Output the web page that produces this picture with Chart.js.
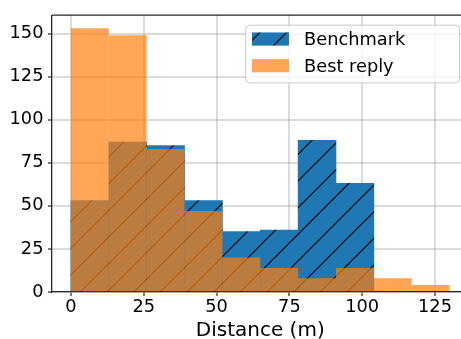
<!DOCTYPE html>
<html>
<head>
<meta charset="utf-8">
<script src="https://cdn.jsdelivr.net/npm/chart.js@4/dist/chart.umd.min.js"></script>
<style>
  html, body { margin: 0; padding: 0; overflow: hidden; background: #fff; }
  canvas { display: block; }
</style>
</head>
<body>
<canvas id="histChart" width="470" height="339"></canvas>
<script>
// Histogram data: shared bin edges (m) and counts per bin
const binEdges = [0, 13, 26, 39, 52, 65, 78, 91, 104, 117, 130];
const benchmarkCounts = [53, 87, 85, 53, 35, 36, 88, 63];
const bestReplyCounts = [153, 149, 83, 47, 20, 14, 8, 14, 8, 4];

// Axis ticks and labels
const xTicks = [0, 25, 50, 75, 100, 125];
const yTicks = [0, 25, 50, 75, 100, 125, 150];
const seriesLabels = ["Benchmark", "Best reply"];
const xTitle = "Distance (m)";

const FONT = "'DejaVu Sans', sans-serif";
const SPINE = '#262626';

function toPoints(counts) {
    // put each count at the centre of its bin
    return counts.map((c, i) => ({ x: (binEdges[i] + binEdges[i + 1]) / 2, y: c }));
}

function makeHatch(fill) {
    // 80px tile, three "/" lines per tile (matplotlib hatch at 80 dpi)
    const size = 80;
    const tile = document.createElement('canvas');
    tile.width = size;
    tile.height = size;
    const c = tile.getContext('2d');
    c.fillStyle = fill;
    c.fillRect(0, 0, size, size);
    c.strokeStyle = '#000';
    c.lineWidth = 1.1;
    const step = size / 3;
    for (let k = -2; k <= 8; k++) {
        const s = k * step - 1;
        c.beginPath();
        c.moveTo(s + 20, -20);
        c.lineTo(s - 100, 100);
        c.stroke();
    }
    return c.createPattern(tile, 'repeat');
}

const ctx = document.getElementById('histChart').getContext('2d');
const hatchBlue = makeHatch('#1f77b4');

// top and right spines (Chart.js only draws left/bottom borders)
const spines = {
    id: 'spines',
    afterDraw(chart) {
        const { ctx, chartArea: a } = chart;
        ctx.save();
        ctx.strokeStyle = SPINE;
        ctx.lineWidth = 1.3;
        ctx.beginPath();
        ctx.moveTo(a.left, a.top);
        ctx.lineTo(a.right, a.top);
        ctx.lineTo(a.right, a.bottom);
        ctx.stroke();
        ctx.restore();
    }
};

// legend box in the upper right corner of the plot
const legendInside = {
    id: 'legendInside',
    afterDraw(chart) {
        const { ctx, chartArea: a } = chart;
        const w = 213.8, h = 57.7;
        const left = a.right - 9 - w;
        const top = a.top + 10;
        ctx.save();
        ctx.beginPath();
        ctx.roundRect(left, top, w, h, 4);
        ctx.fillStyle = 'rgba(255,255,255,0.8)';
        ctx.fill();
        ctx.strokeStyle = '#cccccc';
        ctx.lineWidth = 1;
        ctx.stroke();
        ctx.font = '17.8px ' + FONT;
        ctx.textBaseline = 'alphabetic';
        chart.data.datasets.forEach((ds, i) => {
            const cy = top + 13.85 + i * 26.7;
            ctx.fillStyle = ds.backgroundColor;
            ctx.fillRect(left + 6.3, cy - 6.6, 37, 13.2);
            ctx.fillStyle = '#000';
            ctx.fillText(ds.label, left + 58.3, cy + 6.4);
        });
        ctx.restore();
    }
};

const gridOpts = {
    offset: false,
    color: 'rgba(176,176,176,0.45)',
    lineWidth: 2,
    drawTicks: true,
    tickLength: 4,
    tickColor: SPINE,
    tickWidth: 1.2
};

new Chart(ctx, {
    type: 'bar',
    data: {
        datasets: [
            {
                label: seriesLabels[0],
                data: toPoints(benchmarkCounts),
                backgroundColor: hatchBlue,
                borderWidth: 0,
                inflateAmount: 0.33,
                order: 2
            },
            {
                label: seriesLabels[1],
                data: toPoints(bestReplyCounts),
                backgroundColor: 'rgba(255,127,14,0.7)',
                borderWidth: 0,
                inflateAmount: 0,
                order: 1
            }
        ]
    },
    options: {
        responsive: false,
        animation: false,
        devicePixelRatio: 1,
        grouped: false,
        barPercentage: 1,
        categoryPercentage: 1,
        layout: { padding: { left: 0, top: 9, right: 1.5, bottom: 0 } },
        plugins: {
            legend: { display: false },
            tooltip: { enabled: false }
        },
        scales: {
            x: {
                type: 'linear',
                min: -6.5,
                max: 136.5,
                offset: false,
                z: 1,
                grid: gridOpts,
                border: { color: SPINE, width: 1.3 },
                ticks: {
                    font: { family: FONT, size: 17.8 },
                    color: '#000',
                    padding: 1,
                    maxRotation: 0
                },
                afterBuildTicks: axis => { axis.ticks = xTicks.map(v => ({ value: v })); },
                afterFit: axis => { axis.height = 47; },
                title: {
                    display: true,
                    text: xTitle,
                    color: '#000',
                    font: { family: FONT, size: 20, lineHeight: 0.85 },
                    padding: { top: 0, bottom: 0 }
                }
            },
            y: {
                type: 'linear',
                min: 0,
                max: 160.65,
                z: 1,
                grid: gridOpts,
                border: { color: SPINE, width: 1.3 },
                ticks: {
                    font: { family: FONT, size: 17.8 },
                    color: '#000',
                    padding: 4.5
                },
                afterBuildTicks: axis => { axis.ticks = yTicks.map(v => ({ value: v })); },
                afterFit: axis => { axis.width = 52; }
            }
        }
    },
    plugins: [spines, legendInside]
});
</script>
</body>
</html>
